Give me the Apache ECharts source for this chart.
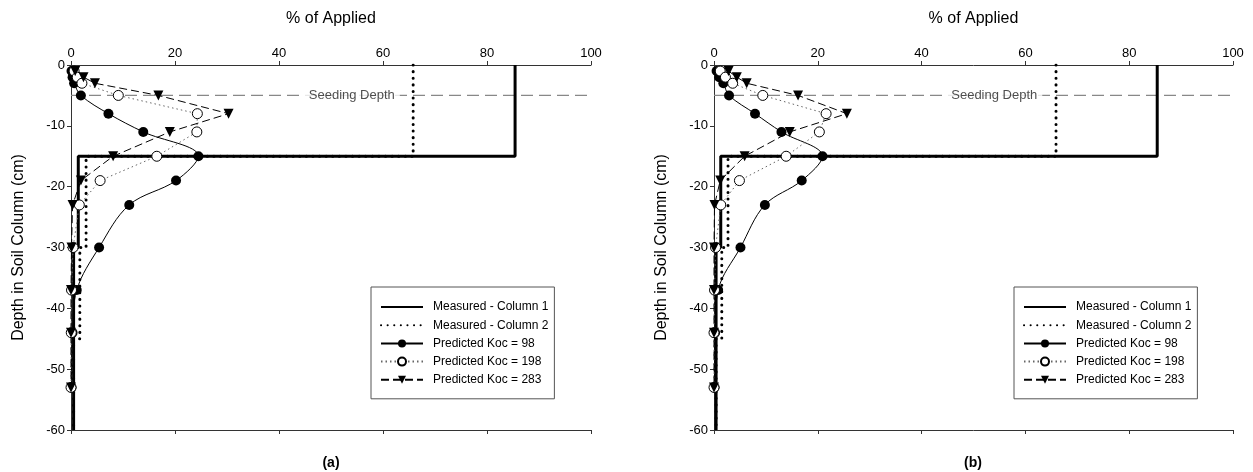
<!DOCTYPE html>
<html>
<head>
<meta charset="utf-8">
<title>Soil column</title>
<script src="https://cdn.jsdelivr.net/npm/echarts@6/dist/echarts.min.js"></script>
<style>
html, body { margin: 0; padding: 0; background: #fff; }
#chart { width: 1253px; height: 472px; }
</style>
</head>
<body>
<div id="chart"></div>
<script>
// depth of each predicted point (cm)
const depths = [-1, -2, -3, -5, -8, -11, -15, -19, -23, -30, -37, -44, -53];

// (a)
const koc98A  = [0.1, 0.3, 0.6, 1.9, 7.2, 13.9, 24.5, 20.2, 11.2, 5.4, 1.1, 0.3, 0.1];
const koc198A = [0.6, 1.2, 2.1, 9.1, 24.3, 24.2, 16.5, 5.6, 1.6, 0.4, 0.1, 0.05, 0];
const koc283A = [0.8, 2.4, 4.6, 16.8, 30.3, 19.0, 8.1, 1.9, 0.3, 0.1, 0, 0, 0];
// (b)
const koc98B  = [0.5, 1.0, 1.8, 2.9, 7.9, 13.0, 20.9, 16.9, 9.8, 5.1, 0.8, 0.2, 0.1];
const koc198B = [1.2, 2.2, 3.6, 9.4, 21.6, 20.3, 13.9, 4.9, 1.3, 0.3, 0.1, 0, 0];
const koc283B = [2.8, 4.4, 6.3, 16.2, 25.6, 14.6, 5.9, 1.2, 0.1, 0, 0, 0, 0];

// measured, step profiles
const col1Depth = [0, -15, -15, -30, -30, -60];
const col1A = [85.4, 85.4, 1.4, 1.4, 0.5, 0.5];
const col1B = [85.4, 85.4, 1.3, 1.3, 0.4, 0.4];
const col2Depth = [0, -15, -15, -30, -30, -45, -45, -60];
const col2A = [65.8, 65.8, 2.9, 2.9, 1.7, 1.7, 0.5, 0.5];
const col2B = [65.9, 65.9, 2.7, 2.7, 1.5, 1.5, 0.4, 0.4];

const seedX = [0, 100];
const seedY = [-5, -5];
const seedLabelAt = [54, -5];

const names = ['Measured - Column 1', 'Measured - Column 2',
  'Predicted Koc = 98', 'Predicted Koc = 198', 'Predicted Koc = 283'];

const font = 'Arial, "Liberation Sans", sans-serif';

function pairs(xs, ys) {
  return xs.map((x, i) => [x, ys[i]]);
}

function panelSeries(i, c1, c2, k98, k198, k283) {
  const ax = { xAxisIndex: i * 2, yAxisIndex: i };
  // transparent item colour so the legend shows only the line for measured data
  const noMark = { color: 'rgba(0,0,0,0)', borderWidth: 0 };
  return [
    Object.assign({
      type: 'line', data: pairs(seedX, seedY), symbol: 'none', silent: true,
      lineStyle: { color: '#888', width: 1.2, type: [12, 6] }, z: 1
    }, ax),
    Object.assign({
      type: 'scatter', data: [seedLabelAt], symbolSize: 1, silent: true,
      itemStyle: { color: 'rgba(0,0,0,0)' },
      label: {
        show: true, position: 'inside', formatter: 'Seeding Depth',
        color: '#222', fontSize: 13, fontFamily: font,
        backgroundColor: '#fff', padding: [1, 5]
      }, z: 2
    }, ax),
    Object.assign({
      name: names[0], type: 'line', data: pairs(c1, col1Depth), symbol: 'none',
      itemStyle: noMark,
      lineStyle: { color: '#000', width: 3 }, z: 3
    }, ax),
    Object.assign({
      name: names[1], type: 'line', data: pairs(c2, col2Depth), symbol: 'none',
      itemStyle: noMark,
      lineStyle: { color: '#000', width: 3, type: [0.1, 6.5], cap: 'round' }, z: 3
    }, ax),
    Object.assign({
      name: names[2], type: 'line', data: pairs(k98, depths), smooth: 0.35,
      symbol: 'circle', symbolSize: 10,
      itemStyle: { color: '#000' },
      lineStyle: { color: '#000', width: 1 }, z: 5
    }, ax),
    Object.assign({
      name: names[3], type: 'line', data: pairs(k198, depths),
      symbol: 'circle', symbolSize: 10,
      itemStyle: { color: '#fff', borderColor: '#000', borderWidth: 1 },
      lineStyle: { color: '#666', width: 1, type: [1.5, 3] }, z: 5
    }, ax),
    Object.assign({
      name: names[4], type: 'line', data: pairs(k283, depths),
      symbol: 'triangle', symbolRotate: 180, symbolSize: 10,
      itemStyle: { color: '#000' },
      lineStyle: { color: '#000', width: 1, type: [8, 4] }, z: 5
    }, ax)
  ];
}

const grids = [
  { left: 71, top: 65, width: 520, height: 365 },
  { left: 714, top: 65, width: 519, height: 365 }
];

function topAxis(g) {
  return {
    type: 'value', gridIndex: g, position: 'top', min: 0, max: 100, interval: 20,
    name: '% of Applied', nameLocation: 'middle', nameGap: 38,
    nameTextStyle: { fontSize: 16, color: '#000', fontFamily: font },
    axisLine: { lineStyle: { color: '#333', width: 1 } },
    axisTick: { length: 4, lineStyle: { color: '#333' } },
    axisLabel: { margin: 5, fontSize: 13, color: '#000', fontFamily: font },
    splitLine: { show: false }
  };
}
function bottomAxis(g) {
  return {
    type: 'value', gridIndex: g, position: 'bottom', min: 0, max: 100, interval: 20,
    axisLine: { lineStyle: { color: '#333', width: 1 } },
    axisTick: { length: 4, lineStyle: { color: '#333' } },
    axisLabel: { show: false },
    splitLine: { show: false }
  };
}
function depthAxis(g) {
  return {
    type: 'value', gridIndex: g, min: -60, max: 0, interval: 10,
    name: 'Depth in Soil Column (cm)', nameLocation: 'middle', nameGap: 44,
    nameTextStyle: { fontSize: 16, color: '#000', fontFamily: font },
    axisLine: { show: true, lineStyle: { color: '#333', width: 1 } },
    axisTick: { show: true, length: 4, lineStyle: { color: '#333' } },
    axisLabel: { margin: 6, fontSize: 13, color: '#000', fontFamily: font },
    splitLine: { show: false }
  };
}

function legendAt(left) {
  return {
    data: names, orient: 'vertical', left: left, top: 287,
    itemWidth: 42, itemHeight: 10, itemGap: 6.2,
    padding: [14, 6, 13, 9],
    borderColor: '#555', borderWidth: 1, backgroundColor: '#fff',
    selectedMode: false,
    textStyle: { fontSize: 12, color: '#000', fontFamily: font, padding: [0, 0, 0, 5] }
  };
}

let chart = echarts.init(document.getElementById('chart'));
chart.setOption({
  animation: false,
  backgroundColor: '#fff',
  grid: grids,
  xAxis: [topAxis(0), bottomAxis(0), topAxis(1), bottomAxis(1)],
  yAxis: [depthAxis(0), depthAxis(1)],
  legend: [legendAt(371), legendAt(1014)],
  graphic: [
    { type: 'text', x: 331, y: 456, style: { text: '(a)', textAlign: 'center', font: 'bold 14px ' + font, fill: '#000' } },
    { type: 'text', x: 973, y: 456, style: { text: '(b)', textAlign: 'center', font: 'bold 14px ' + font, fill: '#000' } }
  ],
  series: [].concat(
    panelSeries(0, col1A, col2A, koc98A, koc198A, koc283A),
    panelSeries(1, col1B, col2B, koc98B, koc198B, koc283B)
  )
});
</script>
</body>
</html>
